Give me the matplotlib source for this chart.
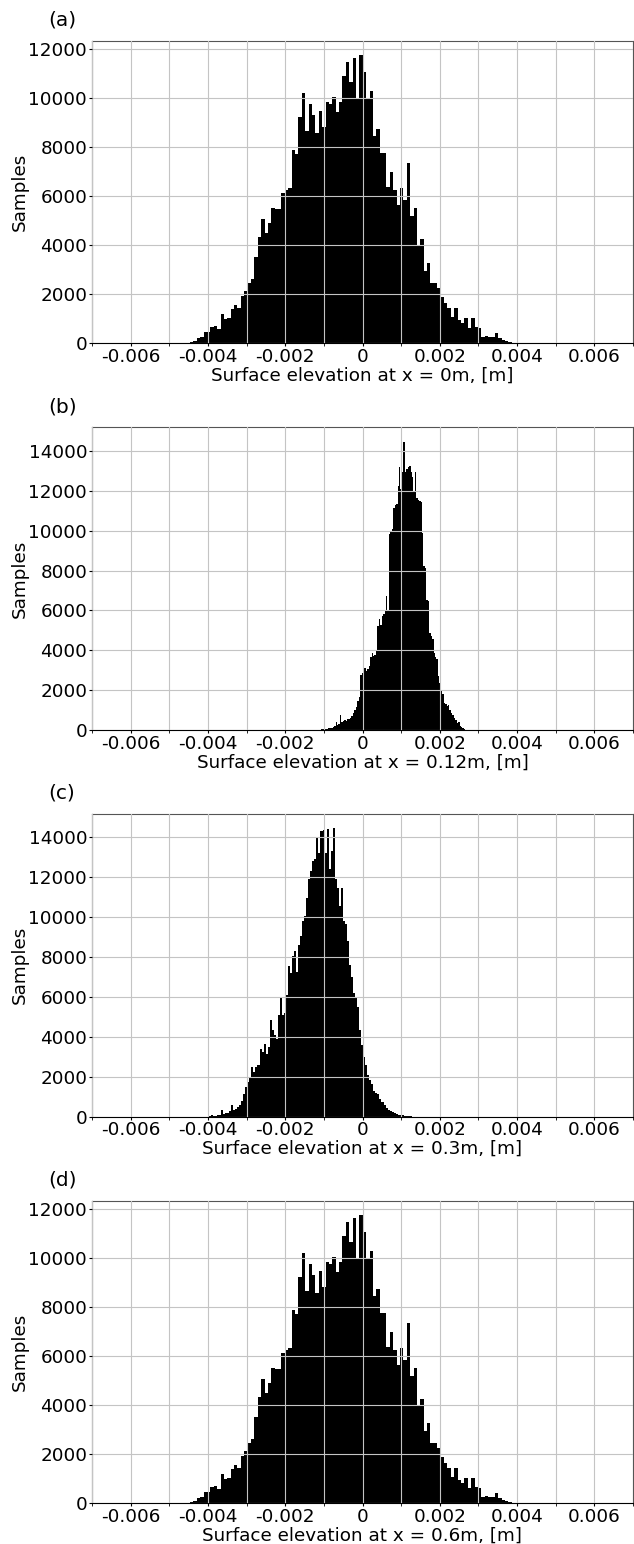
import numpy as np
import matplotlib
matplotlib.use("Agg")
import matplotlib.pyplot as plt
from matplotlib.ticker import MultipleLocator, FuncFormatter

# ---------------- data ----------------
counts_a = [30, 50, 110, 200, 245, 450, 475, 680, 710, 600,
            1200, 980, 1050, 1415, 1565, 1455, 1930, 2150, 2450, 2610,
            3540, 4325, 5070, 4515, 4925, 5510, 5470, 5470, 6120, 6255,
            6350, 7890, 7710, 9220, 10230, 8680, 9765, 9300, 8570, 9465,
            8840, 9860, 9765, 10040, 9440, 9860, 10910, 11490, 10676, 11630,
            9996, 11764, 11084, 9996, 10310, 8460, 8760, 7750, 7750, 6390,
            7000, 6260, 5640, 6350, 5850, 7370, 5200, 5510, 4010, 4240,
            2965, 3290, 2450, 2450, 2270, 1900, 1660, 1430, 1090, 1430,
            950, 815, 1020, 610, 1050, 680, 610, 245, 300, 270,
            245, 435, 205, 135, 95, 40, 27]
range_a = (-0.00455, 0.00395)

counts_b = [34, 34, 50, 50, 67, 84, 100, 100, 168, 200,
            420, 250, 300, 756, 400, 450, 500, 470, 555, 540,
            620, 700, 840, 975, 1175, 1430, 1650, 2770, 2860, 2990,
            3110, 2940, 3060, 3190, 3660, 3860, 3730, 3780, 4030, 5210,
            5580, 5290, 5710, 5800, 5960, 6750, 5960, 9830, 10000, 10080,
            11170, 11290, 11340, 12260, 13190, 12100, 12940, 14480, 12940, 13100,
            13190, 13240, 12970, 12730, 12010, 12940, 11630, 11560, 11510, 11460,
            9910, 8230, 8150, 6550, 6470, 4870, 4700, 4570, 3860, 3660,
            3560, 2720, 2350, 1930, 1810, 1340, 1310, 1210, 1240, 1010,
            840, 756, 590, 500, 336, 420, 200, 134, 84, 50]
range_b = (-0.00107, 0.00266)

counts_c = [34, 67, 34, 50, 67, 100, 336, 134, 168, 200,
            270, 605, 336, 400, 470, 570, 806, 1140, 1480, 1730,
            1980, 2490, 2230, 2490, 2570, 3410, 3240, 3660, 3160, 3490,
            4840, 4330, 4080, 3910, 5090, 5930, 5090, 5170, 6100, 7530,
            7190, 8030, 8280, 7270, 8620, 9040, 9790, 10050, 10970, 11890,
            12310, 12820, 12940, 13990, 13240, 14330, 14380, 13240, 14410, 12400,
            13320, 14450, 11890, 11470, 10550, 11470, 9790, 9680, 8790, 7610,
            7020, 6180, 6010, 5510, 4330, 3580, 2990, 2570, 2070, 1850,
            1650, 1280, 1180, 1110, 890, 756, 605, 437, 336, 286,
            218, 168, 134, 100, 67, 67, 50, 34, 17, 17]
range_c = (-0.00398, 0.00128)

counts_d = list(counts_a)
range_d = range_a

panel_tags = ["(a)", "(b)", "(c)", "(d)"]
x_labels = ["Surface elevation at x = 0m, [m]",
            "Surface elevation at x = 0.12m, [m]",
            "Surface elevation at x = 0.3m, [m]",
            "Surface elevation at x = 0.6m, [m]"]
y_label = "Samples"
x_limits = (-0.007, 0.007)

# ---------------- figure ----------------
W, H = 634, 1544
fig = plt.figure(figsize=(W / 100, H / 100), dpi=100)

tops = [40.7, 427.3, 814.0, 1200.7]
ax_h = 302.6
left_px, right_px = 92, 633
ax_w = right_px - left_px

fs = 13.2
panels = [(counts_a, range_a), (counts_b, range_b), (counts_c, range_c), (counts_d, range_d)]

def fmt(v, pos):
    return "%g" % round(v, 6)

for i, (cnts, rng) in enumerate(panels):
    top = tops[i]
    ax = fig.add_axes([left_px / W, 1 - (top + ax_h) / H, ax_w / W, ax_h / H])
    edges = np.linspace(rng[0], rng[1], len(cnts) + 1)
    ax.hist(edges[:-1], bins=edges, weights=cnts, color="black", histtype="stepfilled", lw=0)
    ax.set_xlim(*x_limits)
    ax.xaxis.set_major_locator(MultipleLocator(0.002))
    ax.xaxis.set_minor_locator(MultipleLocator(0.001))
    ax.xaxis.set_major_formatter(FuncFormatter(fmt))
    ax.yaxis.set_major_locator(MultipleLocator(2000))
    ax.yaxis.set_major_formatter(FuncFormatter(lambda v, p: "%d" % v))
    ax.grid(True, which="both", color="#c4c4c4", lw=0.8)
    ax.set_axisbelow(False)
    for s in ax.spines.values():
        s.set_linewidth(0.8)
    ax.spines["top"].set_color("#555555")
    ax.spines["right"].set_color("#555555")
    ax.tick_params(which="both", labelsize=fs, length=2, pad=1.5)
    ax.set_xlabel(x_labels[i], fontsize=fs, labelpad=0.5)
    ax.set_ylabel(y_label, fontsize=fs, labelpad=-0.5)
    ax.text((48 - left_px) / ax_w, 1 + 20.7 / ax_h, panel_tags[i], transform=ax.transAxes,
            fontsize=14.5, ha="left", va="center")

fig.savefig("out.png", dpi=100)
